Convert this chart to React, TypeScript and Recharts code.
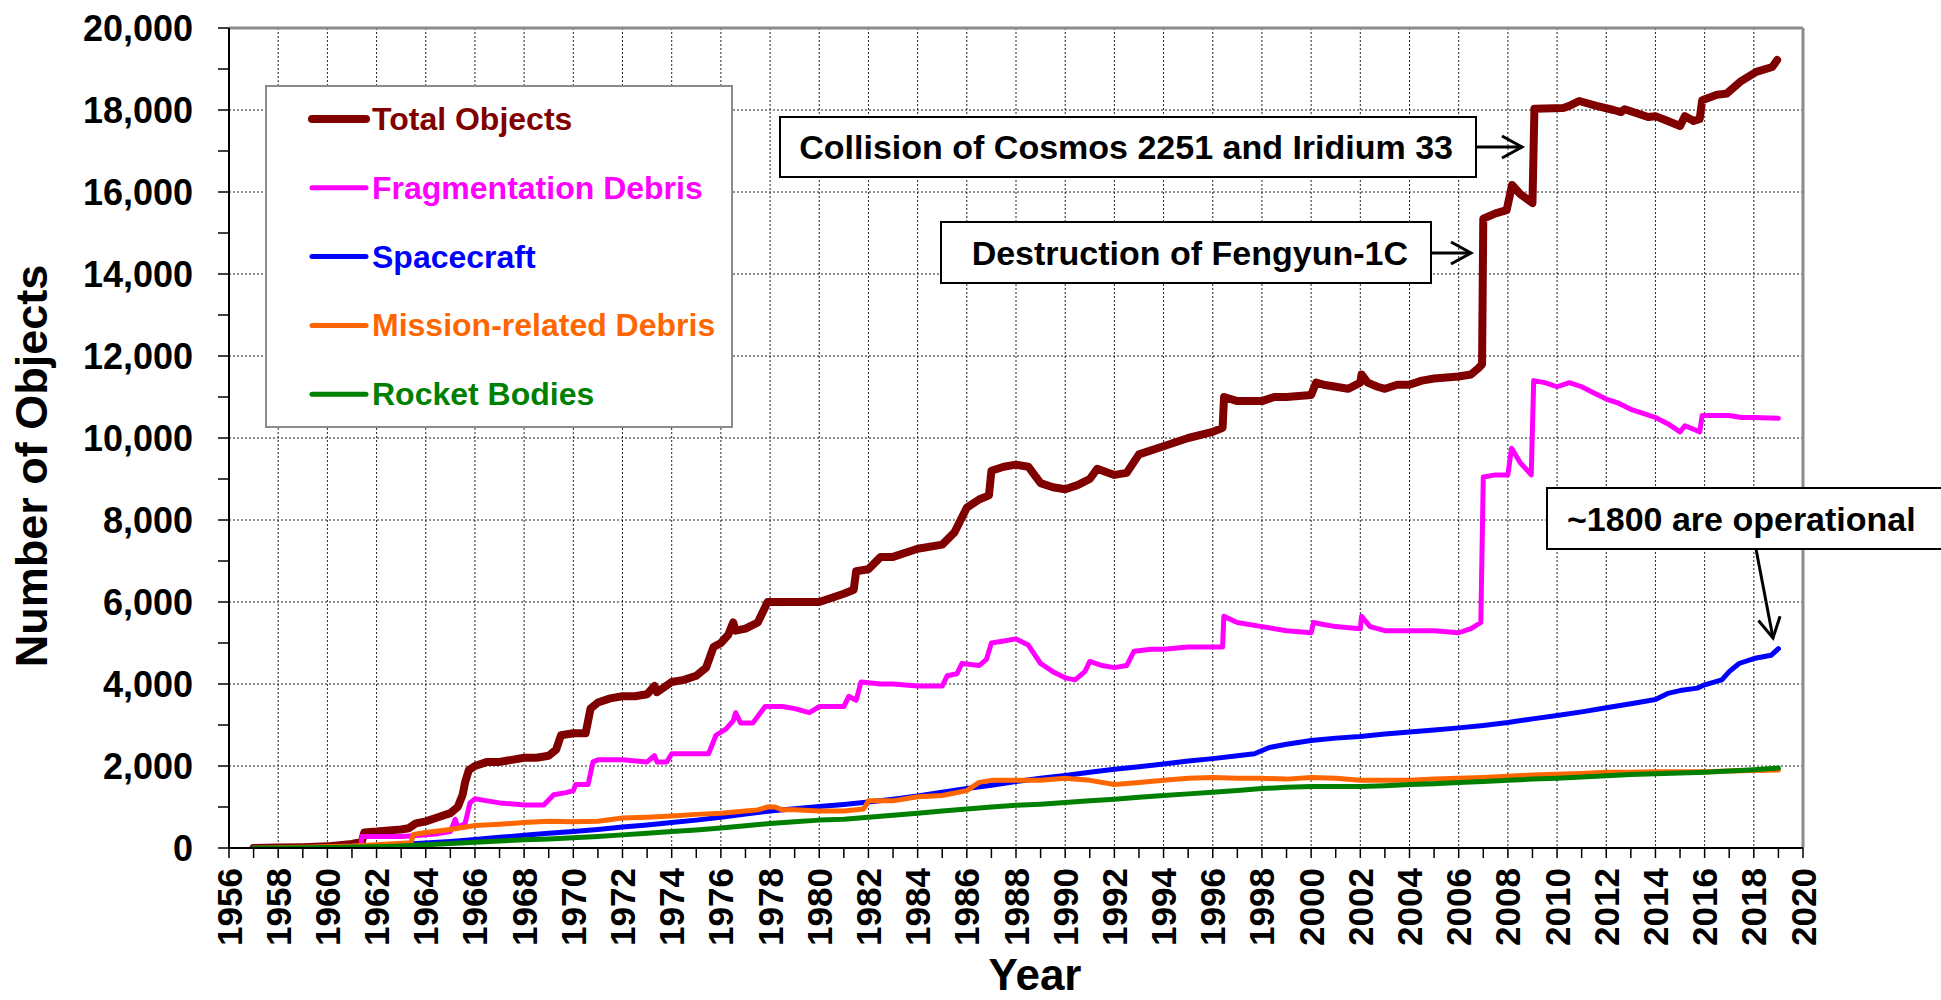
import React from 'react';
import { LineChart, Line, XAxis, YAxis, CartesianGrid, ReferenceLine, Legend } from 'recharts';

const FONT = '"Liberation Sans", Arial, Helvetica, sans-serif';

// ---- axis ticks ----
const X_TICKS: number[] = [];
for (let y = 1956; y <= 2020; y++) X_TICKS.push(y);
const X_GRID = X_TICKS.filter((y) => y % 2 === 0);
const Y_TICKS: number[] = [];
for (let v = 0; v <= 20000; v += 1000) Y_TICKS.push(v);
const Y_GRID = Y_TICKS.filter((v) => v % 2000 === 0);

// ---- series data: [year, number of objects] ----
const TOTAL_OBJECTS: [number, number][] = [
  [1957.0, 0], [1958.0, 10], [1959.0, 20], [1960.0, 40], [1961.0, 100], [1961.4, 150], [1961.5, 380],
  [1962.0, 400], [1962.5, 430], [1963.0, 450], [1963.3, 480], [1963.6, 600], [1964.0, 650], [1964.5, 750],
  [1965.0, 850], [1965.3, 1000], [1965.5, 1300], [1965.6, 1600], [1965.75, 1900], [1966.0, 2000],
  [1966.5, 2100], [1967.0, 2100], [1967.5, 2150], [1968.0, 2200], [1968.5, 2200], [1969.0, 2250],
  [1969.3, 2400], [1969.5, 2750], [1970.0, 2800], [1970.5, 2800], [1970.7, 3400], [1971.0, 3550],
  [1971.5, 3650], [1972.0, 3700], [1972.5, 3700], [1973.0, 3750], [1973.3, 3950], [1973.4, 3800],
  [1974.0, 4050], [1974.5, 4100], [1975.0, 4200], [1975.4, 4400], [1975.7, 4900], [1976.0, 5000],
  [1976.3, 5200], [1976.5, 5500], [1976.6, 5300], [1977.0, 5350], [1977.5, 5500], [1977.9, 6000],
  [1978.5, 6000], [1979.0, 6000], [1980.0, 6000], [1981.0, 6200], [1981.4, 6300], [1981.5, 6750],
  [1982.0, 6800], [1982.5, 7100], [1983.0, 7100], [1984.0, 7300], [1985.0, 7400], [1985.5, 7700],
  [1986.0, 8300], [1986.5, 8500], [1986.9, 8600], [1987.0, 9200], [1987.5, 9300], [1988.0, 9350],
  [1988.5, 9300], [1989.0, 8900], [1989.5, 8800], [1990.0, 8750], [1990.5, 8850], [1991.0, 9000],
  [1991.3, 9250], [1992.0, 9100], [1992.5, 9150], [1993.0, 9600], [1994.0, 9800], [1995.0, 10000],
  [1996.0, 10150], [1996.4, 10250], [1996.46, 11000], [1997.0, 10900], [1998.0, 10900], [1998.5, 11000],
  [1999.0, 11000], [2000.0, 11050], [2000.2, 11350], [2000.5, 11300], [2001.0, 11250], [2001.5, 11200],
  [2002.0, 11350], [2002.05, 11550], [2002.3, 11350], [2002.7, 11250], [2003.0, 11200], [2003.5, 11300],
  [2004.0, 11300], [2004.5, 11400], [2005.0, 11450], [2006.0, 11500], [2006.5, 11550], [2006.8, 11700],
  [2006.95, 11800], [2007.0, 15350], [2007.5, 15480], [2007.95, 15560], [2008.17, 16170], [2008.5, 15950],
  [2009.0, 15730], [2009.08, 18030], [2010.25, 18050], [2010.5, 18100], [2010.9, 18220], [2011.6, 18100],
  [2012.3, 18000], [2012.6, 17950], [2012.75, 18020], [2013.7, 17830], [2014.0, 17850], [2014.5, 17730],
  [2015.0, 17610], [2015.2, 17850], [2015.55, 17730], [2015.8, 17780], [2015.9, 18240], [2016.5, 18370],
  [2016.9, 18400], [2017.45, 18690], [2018.1, 18930], [2018.75, 19050], [2018.95, 19220],
];

const FRAGMENTATION_DEBRIS: [number, number][] = [
  [1961.35, 0], [1961.4, 280], [1962.0, 280], [1963.0, 280], [1963.5, 300], [1964.0, 320], [1964.5, 350],
  [1965.0, 400], [1965.2, 700], [1965.3, 500], [1965.6, 600], [1965.8, 1100], [1966.0, 1200], [1966.5, 1150],
  [1967.0, 1100], [1968.0, 1050], [1968.8, 1050], [1969.2, 1300], [1969.7, 1350], [1970.0, 1400],
  [1970.1, 1550], [1970.6, 1550], [1970.8, 2100], [1971.0, 2150], [1972.0, 2150], [1973.0, 2100],
  [1973.3, 2250], [1973.4, 2100], [1973.8, 2100], [1974.0, 2300], [1975.0, 2300], [1975.5, 2300],
  [1975.8, 2750], [1976.2, 2900], [1976.5, 3100], [1976.6, 3300], [1976.8, 3050], [1977.3, 3050],
  [1977.8, 3450], [1978.5, 3450], [1979.0, 3400], [1979.6, 3300], [1980.0, 3450], [1981.0, 3450],
  [1981.2, 3700], [1981.5, 3600], [1981.7, 4050], [1982.5, 4000], [1983.0, 4000], [1984.0, 3950],
  [1985.0, 3950], [1985.2, 4200], [1985.6, 4250], [1985.8, 4500], [1986.5, 4450], [1986.8, 4600],
  [1987.0, 5000], [1987.5, 5050], [1988.0, 5100], [1988.5, 4950], [1989.0, 4500], [1989.5, 4300],
  [1990.0, 4150], [1990.4, 4100], [1990.8, 4300], [1991.0, 4550], [1991.5, 4450], [1992.0, 4400],
  [1992.5, 4450], [1992.8, 4800], [1993.5, 4850], [1994.0, 4850], [1995.0, 4900], [1996.0, 4900],
  [1996.4, 4900], [1996.45, 5650], [1997.0, 5500], [1998.0, 5400], [1999.0, 5300], [2000.0, 5250],
  [2000.1, 5500], [2000.5, 5450], [2001.0, 5400], [2002.0, 5350], [2002.05, 5650], [2002.4, 5400],
  [2003.0, 5300], [2004.0, 5300], [2005.0, 5300], [2006.0, 5250], [2006.5, 5350], [2006.9, 5500],
  [2007.0, 9050], [2007.5, 9100], [2008.0, 9100], [2008.15, 9750], [2008.5, 9400], [2008.95, 9100],
  [2009.05, 11400], [2009.5, 11350], [2010.0, 11250], [2010.5, 11350], [2011.0, 11250], [2011.5, 11100],
  [2012.0, 10950], [2012.5, 10850], [2013.0, 10700], [2013.5, 10600], [2014.0, 10500], [2014.5, 10350],
  [2015.0, 10150], [2015.2, 10300], [2015.6, 10200], [2015.8, 10150], [2015.9, 10550], [2016.5, 10550],
  [2017.0, 10550], [2017.5, 10500], [2018.0, 10500], [2019.0, 10480],
];

const SPACECRAFT: [number, number][] = [
  [1957, 0], [1958, 5], [1959, 10], [1960, 25], [1961, 40], [1962, 60], [1963, 90], [1964, 120],
  [1965, 160], [1966, 210], [1967, 260], [1968, 310], [1969, 360], [1970, 400], [1971, 450], [1972, 510],
  [1973, 560], [1974, 620], [1975, 680], [1976, 750], [1977, 830], [1978, 900], [1979, 960], [1980, 1010],
  [1981, 1060], [1982, 1120], [1983, 1190], [1984, 1270], [1985, 1360], [1986, 1450], [1987, 1530],
  [1988, 1620], [1989, 1700], [1990, 1770], [1991, 1850], [1992, 1920], [1993, 1980], [1994, 2050],
  [1995, 2120], [1996, 2180], [1997, 2250], [1997.7, 2300], [1998.3, 2450], [1999, 2530], [2000, 2620],
  [2001, 2680], [2002, 2720], [2003, 2780], [2004, 2830], [2005, 2880], [2006, 2930], [2007, 2990],
  [2008, 3060], [2009, 3150], [2010, 3230], [2011, 3320], [2012, 3420], [2013, 3520], [2014, 3620],
  [2014.5, 3770], [2015, 3840], [2015.7, 3900], [2016, 3980], [2016.7, 4100], [2017, 4300],
  [2017.4, 4500], [2018, 4620], [2018.7, 4700], [2019, 4860],
];

const MISSION_RELATED_DEBRIS: [number, number][] = [
  [1957, 0], [1959, 20], [1961, 50], [1962, 80], [1963.4, 130], [1963.5, 330], [1964, 380], [1965, 450],
  [1965.5, 500], [1966, 550], [1967, 580], [1968, 620], [1969, 650], [1970, 640], [1971, 650], [1972, 730],
  [1973, 750], [1974, 780], [1975, 820], [1976, 850], [1977, 900], [1977.5, 930], [1977.9, 1000],
  [1978.2, 1000], [1978.5, 930], [1979, 930], [1980, 900], [1981, 900], [1981.8, 950], [1982, 1150],
  [1983, 1150], [1984, 1250], [1985, 1280], [1986, 1400], [1986.5, 1600], [1987, 1650], [1988, 1650],
  [1989, 1650], [1990, 1700], [1991, 1650], [1992, 1550], [1993, 1600], [1994, 1650], [1995, 1700],
  [1996, 1720], [1997, 1700], [1998, 1700], [1999, 1680], [2000, 1720], [2001, 1700], [2002, 1650],
  [2003, 1650], [2004, 1650], [2005, 1680], [2006, 1700], [2007, 1720], [2008, 1750], [2009, 1780],
  [2010, 1800], [2011, 1820], [2012, 1850], [2013, 1850], [2014, 1860], [2015, 1860], [2016, 1860],
  [2017, 1880], [2018, 1890], [2019, 1900],
];

const ROCKET_BODIES: [number, number][] = [
  [1957, 0], [1958, 3], [1960, 10], [1962, 30], [1963, 50], [1964, 80], [1965, 110], [1966, 140],
  [1967, 170], [1968, 200], [1969, 220], [1970, 250], [1971, 280], [1972, 320], [1973, 360], [1974, 400],
  [1975, 440], [1976, 490], [1977, 540], [1978, 600], [1979, 640], [1980, 680], [1981, 700], [1982, 750],
  [1983, 800], [1984, 850], [1985, 900], [1986, 950], [1987, 1000], [1988, 1040], [1989, 1070],
  [1990, 1110], [1991, 1150], [1992, 1190], [1993, 1240], [1994, 1280], [1995, 1320], [1996, 1360],
  [1997, 1400], [1998, 1450], [1999, 1480], [2000, 1500], [2001, 1500], [2002, 1500], [2003, 1520],
  [2004, 1550], [2005, 1570], [2006, 1600], [2007, 1620], [2008, 1650], [2009, 1680], [2010, 1700],
  [2011, 1730], [2012, 1760], [2013, 1790], [2014, 1810], [2015, 1830], [2016, 1850], [2017, 1880],
  [2018, 1910], [2019, 1950],
];

const SERIES_NAMES = ['Total Objects', 'Fragmentation Debris', 'Spacecraft', 'Mission-related Debris', 'Rocket Bodies'];
const SERIES_COLORS = ['#800000', '#FF00FF', '#0000FF', '#FF6600', '#008000'];
const SERIES_WIDTHS = [8, 5, 5, 5, 5];
const SERIES_DATA = [TOTAL_OBJECTS, FRAGMENTATION_DEBRIS, SPACECRAFT, MISSION_RELATED_DEBRIS, ROCKET_BODIES];

const toRows = (pairs: [number, number][]) => pairs.map(([year, v]) => ({ year, v }));

const fmt = (v: number) => v.toLocaleString('en-US');

const LEGEND_W = 468;
const LEGEND_H = 343;

const XTick = (props: any) => {
  const { x, y, payload } = props;
  if (payload.value % 2 !== 0) return <g />;
  return (
    <text
      x={x}
      y={y}
      transform={`rotate(-90, ${x}, ${y})`}
      textAnchor="end"
      dominantBaseline="central"
      fontFamily={FONT}
      fontWeight="bold"
      fontSize={35}
      fill="#000"
    >
      {payload.value}
    </text>
  );
};

const YTick = (props: any) => {
  const { x, y, payload } = props;
  if (payload.value % 2000 !== 0) return <g />;
  return (
    <text x={x} y={y} textAnchor="end" dominantBaseline="central" fontFamily={FONT} fontWeight="bold" fontSize={36} fill="#000">
      {fmt(payload.value)}
    </text>
  );
};

const LegendBox = () => (
  <svg width={LEGEND_W} height={LEGEND_H} style={{ display: 'block', background: '#fff' }}>
    <rect x={1} y={1} width={LEGEND_W - 2} height={LEGEND_H - 2} fill="#fff" stroke="#8c8c8c" strokeWidth={2} />
    {SERIES_NAMES.map((name, i) => {
      const cy = 34 + i * 68.8;
      return (
        <g key={name}>
          <line x1={47} x2={101} y1={cy} y2={cy} stroke={SERIES_COLORS[i]} strokeWidth={SERIES_WIDTHS[i]} strokeLinecap="round" />
          <text x={107} y={cy} dominantBaseline="central" fontFamily={FONT} fontWeight="bold" fontSize={32} fill={SERIES_COLORS[i]}>
            {name}
          </text>
        </g>
      );
    })}
  </svg>
);

const arrowHead = (x1: number, y1: number, x2: number, y2: number, len = 20, half = 11) => {
  const dx = x2 - x1;
  const dy = y2 - y1;
  const d = Math.hypot(dx, dy);
  const ux = dx / d;
  const uy = dy / d;
  const px = -uy;
  const py = ux;
  const bx = x2 - ux * len;
  const by = y2 - uy * len;
  return `M ${bx + px * half} ${by + py * half} L ${x2} ${y2} L ${bx - px * half} ${by - py * half}`;
};

const Arrow = ({ x1, y1, x2, y2 }: { x1: number; y1: number; x2: number; y2: number }) => (
  <g stroke="#000" strokeWidth={3} fill="none">
    <line x1={x1} y1={y1} x2={x2} y2={y2} />
    <path d={arrowHead(x1, y1, x2, y2)} strokeLinejoin="miter" />
  </g>
);

const Callout = ({ x, y, w, h, text, textX, anchor }: any) => (
  <g>
    <rect x={x} y={y} width={w} height={h} fill="#fff" stroke="#000" strokeWidth={2} />
    <text x={textX} y={y + h / 2} textAnchor={anchor} dominantBaseline="central" fontFamily={FONT} fontWeight="bold" fontSize={34} fill="#000">
      {text}
    </text>
  </g>
);

export default function App() {
  return (
    <div style={{ position: 'absolute', left: 0, top: 0, width: 1941, height: 1000, overflow: 'hidden', background: '#fff' }}>
      <LineChart width={1941} height={1000} margin={{ top: 28, right: 138, bottom: 0, left: 0 }}>
        <CartesianGrid
          verticalValues={X_GRID}
          horizontalValues={Y_GRID}
          stroke="#222"
          strokeDasharray="2 2"
          strokeWidth={1}
        />
        <XAxis
          type="number"
          dataKey="year"
          domain={[1956, 2020]}
          ticks={X_TICKS}
          interval={0}
          allowDataOverflow
          height={152}
          tickSize={10}
          tickMargin={10}
          axisLine={{ stroke: '#000', strokeWidth: 2 }}
          tickLine={{ stroke: '#000', strokeWidth: 1.5 }}
          tick={(p: any) => <XTick {...p} />}
        />
        <YAxis
          type="number"
          domain={[0, 20000]}
          ticks={Y_TICKS}
          interval={0}
          allowDataOverflow
          width={229}
          tickSize={11}
          tickMargin={25}
          axisLine={{ stroke: '#000', strokeWidth: 2 }}
          tickLine={{ stroke: '#000', strokeWidth: 1.5 }}
          tick={(p: any) => <YTick {...p} />}
        />
        <ReferenceLine y={20000} stroke="#8c8c8c" strokeWidth={3} />
        <ReferenceLine x={2020} stroke="#8c8c8c" strokeWidth={3} />
        {SERIES_DATA.map((d, i) => (
          <Line
            key={SERIES_NAMES[i]}
            name={SERIES_NAMES[i]}
            data={toRows(d)}
            dataKey="v"
            type="linear"
            stroke={SERIES_COLORS[i]}
            strokeWidth={SERIES_WIDTHS[i]}
            strokeLinejoin="round"
            strokeLinecap="round"
            dot={false}
            activeDot={false}
            isAnimationActive={false}
          />
        ))}
        <Legend
          layout="horizontal"
          verticalAlign="middle"
          align="center"
          content={() => <LegendBox />}
          wrapperStyle={{ position: 'absolute', left: 265, top: 85, width: LEGEND_W, height: LEGEND_H }}
        />
      </LineChart>
      <svg width={1941} height={1000} style={{ position: 'absolute', left: 0, top: 0, pointerEvents: 'none' }}>
        <Callout x={780} y={117} w={696} h={60} text="Collision of Cosmos 2251 and Iridium 33" textX={1453} anchor="end" />
        <Arrow x1={1476} y1={147} x2={1522} y2={147} />
        <Callout x={941} y={222} w={490} h={61} text="Destruction of Fengyun-1C" textX={1408} anchor="end" />
        <Arrow x1={1431} y1={253} x2={1471} y2={253} />
        <Callout x={1547} y={488} w={420} h={61} text="~1800 are operational" textX={1567} anchor="start" />
        <Arrow x1={1756} y1={549} x2={1773} y2={638} />
        <text
          x={47}
          y={466}
          transform="rotate(-90, 47, 466)"
          textAnchor="middle"
          fontFamily={FONT}
          fontWeight="bold"
          fontSize={45}
          fill="#000"
        >
          Number of Objects
        </text>
        <text x={1035} y={990} textAnchor="middle" fontFamily={FONT} fontWeight="bold" fontSize={44} fill="#000">
          Year
        </text>
      </svg>
    </div>
  );
}
